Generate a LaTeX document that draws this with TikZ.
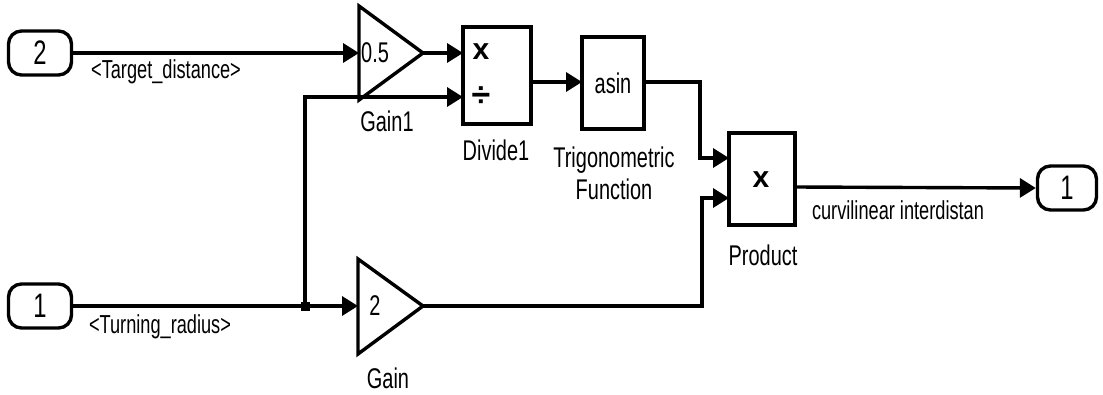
\documentclass[tikz,border=0pt]{standalone}
\usepackage{fontspec}
\setmainfont{Liberation Sans}[FakeStretch=0.7]
\newfontfamily\symfont{Liberation Sans}
\usetikzlibrary{arrows.meta}
\begin{document}
\begin{tikzpicture}[x=1pt,y=-1pt,
  wire/.style={line width=3.4pt},
  arr/.style={wire,-{Triangle[length=16pt,width=19pt]}},
  blk/.style={draw, line width=3.4pt, inner sep=0pt, fill=white},
  port/.style={draw, line width=3.4pt, rounded corners=13pt, minimum width=63pt, minimum height=44pt, inner sep=0pt, font=\fontsize{34}{34}\selectfont},
  lbl/.style={font=\fontsize{28.5}{32}\selectfont, align=center, inner sep=0pt},
  sig/.style={font=\fontsize{26}{28}\selectfont, inner sep=0pt},
  sym/.style={font=\symfont\fontsize{30}{30}\selectfont\bfseries, inner sep=0pt}]
\path[fill=white] (0,0) rectangle (1103,394);
\useasboundingbox (0,0) rectangle (1103,394);

% ports
\node[port] (in2) at (40,53) {2};
\node[port] (in1) at (40,306) {1};
\node[port, minimum width=59pt] (out1) at (1067,188) {1};

% Gain1 triangle
\draw[line width=3.4pt, line join=miter] (359,6) -- (423,53) -- (359,100) -- cycle;
\coordinate (g1in) at (359,53);
\coordinate (g1out) at (423,53);
\node[lbl, anchor=west] (g1val) at (361,53) {0.5};
\node[lbl] (g1lbl) at (387,121) {Gain1};

% Gain triangle
\draw[line width=3.4pt, line join=miter] (358,259) -- (423,306) -- (358,354) -- cycle;
\coordinate (gin) at (358,306);
\coordinate (gout) at (423,306);
\node[lbl] (gval) at (375,306) {2};
\node[lbl] (glbl) at (388,378) {Gain};

% Divide1
\node[blk, minimum width=68pt, minimum height=97pt] (div) at (497,75.5) {};
\node[sym] (divx) at (481,52) {x};
\node[sym, font=\symfont\fontsize{34}{34}\selectfont\bfseries] (divd) at (481,97) {÷};
\node[lbl] (divlbl) at (496,150) {Divide1};
\coordinate (divin1) at (463,53);
\coordinate (divin2) at (463,97);
\coordinate (divout) at (531,82);

% asin
\node[blk, minimum width=62pt, minimum height=92pt, lbl] (asin) at (613,83) {asin};
\coordinate (asinin) at (582,82);
\coordinate (asinout) at (644,82);
\node[lbl] (triglbl) at (614,173) {Trigonometric\\Function};

% Product
\node[blk, minimum width=66pt, minimum height=92pt] (prod) at (762,179) {};
\node[sym] (prodx) at (761,180) {x};
\node[lbl] (prodlbl) at (763,255) {Product};
\coordinate (prodin1) at (729,158);
\coordinate (prodin2) at (729,198);
\coordinate (prodout) at (795,187);

% junction
\coordinate (jn) at (305,306);
\coordinate (jtop) at (305,97);
\fill (jn) +(-4.5,-4.5) rectangle +(4.5,4.5);

% wires
\draw[arr] (in2.east) -- (g1in);
\draw[arr] (g1out) -- (divin1);
\draw[arr] (in1.east) -- (gin);
\draw[arr] (jn) -- (jtop) -- (divin2);
\draw[arr] (divout) -- (asinin);
\draw[arr] (asinout) -- (700,82) -- (700,158) -- (prodin1);
\draw[arr] (gout) -- (702,306) -- (702,198) -- (prodin2);
\draw[arr] (prodout) -- (out1.west);

% signal labels
\node[sig] (tdist) at (166,72) {<Target\_distance>};
\node[sig] (trad) at (160,327) {<Turning\_radius>};
\node[sig] (curv) at (898,210) {curvilinear interdistan};
\end{tikzpicture}
\end{document}
